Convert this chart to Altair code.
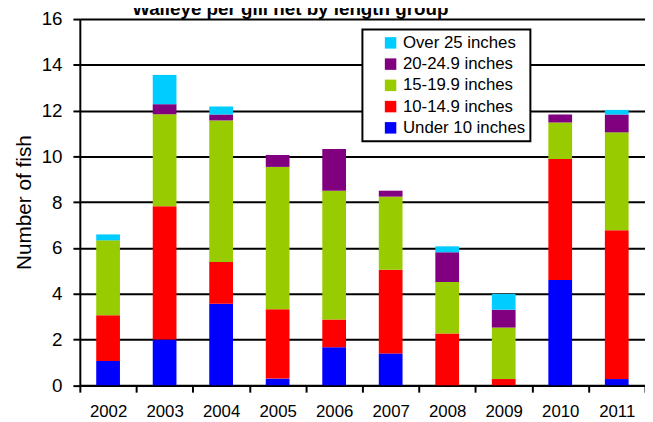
import altair as alt
import pandas as pd

years = ["2002", "2003", "2004", "2005", "2006", "2007", "2008", "2009", "2010", "2011"]
groups = ["Over  25 inches", "20-24.9 inches", "15-19.9 inches", "10-14.9 inches", "Under 10 inches"]
colors = ["#00CCFF", "#800080", "#99CC00", "#FF0000", "#0000FF"]

under10 = [1.06, 2.00, 3.56, 0.29, 1.66, 1.39, 0.00, 0.00, 4.60, 0.27]
in10_14 = [2.00, 5.82, 1.83, 3.03, 1.21, 3.66, 2.26, 0.27, 5.28, 6.50]
in15_19 = [3.27, 4.02, 6.18, 6.22, 5.63, 3.19, 2.25, 2.25, 1.60, 4.28]
in20_24 = [0.00, 0.44, 0.26, 0.52, 1.82, 0.26, 1.30, 0.78, 0.35, 0.78]
over25 = [0.26, 1.28, 0.35, 0.00, 0.00, 0.00, 0.26, 0.69, 0.00, 0.20]

series = {
    "Under 10 inches": under10,
    "10-14.9 inches": in10_14,
    "15-19.9 inches": in15_19,
    "20-24.9 inches": in20_24,
    "Over  25 inches": over25,
}
stack_rank = {"Under 10 inches": 0, "10-14.9 inches": 1, "15-19.9 inches": 2,
              "20-24.9 inches": 3, "Over  25 inches": 4}

rows = []
for g, vals in series.items():
    for y, v in zip(years, vals):
        rows.append({"year": y, "group": g, "value": v, "rank": stack_rank[g]})
df = pd.DataFrame(rows)

FONT = "Liberation Sans, Arial, sans-serif"

chart = alt.Chart(df).mark_bar(width=alt.RelativeBandSize(0.42)).encode(
    x=alt.X("year:N", sort=years,
            scale=alt.Scale(paddingInner=0, paddingOuter=0),
            axis=alt.Axis(title=None, labelAngle=0, labelFontSize=17, labelFont=FONT,
                          labelColor="black", labelBaseline="alphabetic", labelPadding=25,
                          tickBand="extent", tickSize=7, tickWidth=2, tickColor="black",
                          domainColor="black", domainWidth=2, grid=False)),
    y=alt.Y("value:Q", stack="zero",
            scale=alt.Scale(domain=[0, 16], nice=False),
            axis=alt.Axis(title="Number of fish", values=list(range(0, 17, 2)),
                          labelFontSize=19, labelFont=FONT, labelColor="black",
                          labelPadding=11, tickSize=7, tickWidth=2, tickColor="black",
                          domainColor="black", domainWidth=2,
                          grid=True, gridColor="black", gridWidth=2, gridOpacity=1,
                          titleFontSize=21, titleFont=FONT, titleFontWeight="normal",
                          titleColor="black", titleAngle=-90, titleX=-55.7, titleY=185.3,
                          titleAlign="center", titleBaseline="middle")),
    color=alt.Color("group:N",
                    scale=alt.Scale(domain=groups, range=colors),
                    legend=alt.Legend(title=None, orient="none", legendX=286, legendY=10.6,
                                      labelFontSize=17, labelFont=FONT, labelColor="black",
                                      symbolType="square", symbolSize=135, symbolStrokeWidth=0,
                                      symbolOffset=15, labelOffset=4, rowPadding=3.5,
                                      padding=5, strokeColor="black", fillColor="white")),
    order=alt.Order("rank:Q", sort="ascending"),
).properties(
    width=572,
    height=370.6,
    autosize="none",
    padding={"left": 72.7, "top": 8.7, "right": 0, "bottom": 34},
    title=alt.TitleParams(text="Walleye per gill net by length group", fontSize=19,
                          fontWeight="bold", font=FONT, color="black", anchor="middle",
                          frame="group", baseline="alphabetic", offset=0, dx=-73, dy=24),
).configure_view(
    stroke=None
).configure_legend(
    strokeWidth=2
)

chart.save("out.html", embed_options={"renderer": "svg", "actions": False})
